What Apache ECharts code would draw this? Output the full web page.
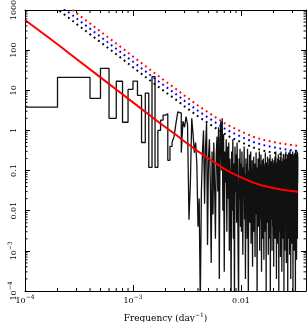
<!DOCTYPE html>
<html><head><meta charset="utf-8">
<script src="https://cdn.jsdelivr.net/npm/echarts@6/dist/echarts.min.js"></script>
<style>html,body{margin:0;padding:0;background:#fff}#c{width:307px;height:322px}</style>
</head><body><div id="c"></div>
<script>
// frequency spacing of the periodogram (day^-1)
const freqStep = 1e-4;
// periodogram power, one value per frequency k*freqStep (k = 1..336)
const power = [
3.8, 21, 21, 6.3, 35, 2.0, 16.8, 1.6, 10.5, 17,
7.5, 0.5, 8.5, 0.12, 22, 0.12, 1.0, 1.8, 2.4, 2.6,
0.18, 0.4, 0.5, 0.7, 1.5, 2.9, 2.7, 0.28, 1.7, 1.2,
2.2, 1.4, 0.006, 0.05, 2.0, 0.8, 0.28, 0.5, 0.15, 0.004,
0.02, 0.00005, 0.03, 0.3, 1.0, 0.015, 0.4, 1.5, 0.0014, 0.2,
0.6, 0.05, 0.0005, 0.3, 0.008, 0.5, 0.04, 0.002, 0.25, 0.7,
0.03, 1.2, 0.0002, 0.6, 1.7, 0.1, 2.0, 0.01, 0.8, 0.0003,
0.3, 0.05, 0.6, 0.003, 0.4, 0.02, 0.5, 0.001, 0.2, 0.05,
0.00005, 0.3, 0.01, 0.6, 0.002, 0.15, 0.00005, 0.4, 0.03, 0.25,
0.005, 0.5, 0.08, 0.001, 0.00005, 0.2, 0.02, 0.35, 0.004, 0.15,
0.003, 0.3, 0.02, 0.0008, 0.12, 0.05, 0.4, 0.006, 0.08, 0.0002,
0.2, 0.01, 0.15, 0.002, 0.35, 0.03, 0.00005, 0.1, 0.04, 0.25,
0.005, 0.06, 0.3, 0.0015, 0.12, 0.02, 0.18, 0.0004, 0.08, 0.01,
0.22, 0.003, 0.05, 0.15, 0.0007, 0.1, 0.03, 0.28, 0.008, 0.06,
0.00005, 0.12, 0.02, 0.2, 0.004, 0.09, 0.015, 0.3, 0.001, 0.05,
0.14, 0.006, 0.25, 0.03, 0.0003, 0.1, 0.04, 0.18, 0.002, 0.07,
0.2, 0.01, 0.0006, 0.12, 0.05, 0.15, 0.003, 0.28, 0.02, 0.08,
0.0001, 0.16, 0.03, 0.1, 0.005, 0.22, 0.012, 0.06, 0.0008, 0.14,
0.04, 0.2, 0.002, 0.09, 0.018, 0.25, 0.00005, 0.11, 0.03, 0.17,
0.006, 0.07, 0.13, 0.001, 0.2, 0.025, 0.09, 0.004, 0.15, 0.05,
0.0004, 0.18, 0.01, 0.12, 0.035, 0.22, 0.002, 0.08, 0.015, 0.3,
0.005, 0.1, 0.0002, 0.16, 0.04, 0.07, 0.0015, 0.2, 0.02, 0.12,
0.008, 0.25, 0.03, 0.00005, 0.14, 0.06, 0.18, 0.003, 0.1, 0.04,
0.22, 0.0007, 0.09, 0.02, 0.3, 0.006, 0.13, 0.05, 0.0003, 0.17,
0.03, 0.11, 0.002, 0.2, 0.012, 0.08, 0.26, 0.004, 0.15, 0.0001,
0.06, 0.19, 0.02, 0.1, 0.001, 0.24, 0.04, 0.13, 0.007, 0.3,
0.015, 0.09, 0.0005, 0.2, 0.05, 0.16, 0.003, 0.11, 0.03, 0.25,
0.00005, 0.14, 0.06, 0.21, 0.01, 0.08, 0.28, 0.002, 0.12, 0.04,
0.18, 0.0008, 0.1, 0.025, 0.32, 0.005, 0.15, 0.07, 0.0002, 0.22,
0.03, 0.12, 0.009, 0.26, 0.0015, 0.17, 0.05, 0.2, 0.004, 0.1,
0.3, 0.02, 0.0001, 0.14, 0.06, 0.24, 0.008, 0.11, 0.035, 0.19,
0.001, 0.27, 0.045, 0.13, 0.003, 0.22, 0.015, 0.09, 0.00005, 0.33,
0.04, 0.16, 0.007, 0.25, 0.02, 0.12, 0.0006, 0.2, 0.06, 0.3,
0.01, 0.15, 0.002, 0.28, 0.05, 0.22
];
// model curve and significance levels, sampled at modelFreq
const modelFreq  = [1e-4, 2e-4, 3e-4, 5e-4, 7e-4, 1e-3, 1.5e-3, 2e-3, 2.5e-3, 3e-3, 4e-3, 5e-3, 6e-3, 7e-3, 8e-3, 1e-2, 1.3e-2, 1.6e-2, 2e-2, 2.5e-2, 3.37e-2];
const modelPower = [563, 140, 60, 21, 10.5, 5.0, 2.15, 1.2, 0.78, 0.53, 0.30, 0.2, 0.145, 0.11, 0.09, 0.068, 0.05, 0.042, 0.037, 0.033, 0.0295];
const sigBlack   = [4222, 1050, 450, 158, 79, 37.5, 16.1, 9.0, 5.85, 3.98, 2.25, 1.5, 1.09, 0.83, 0.68, 0.51, 0.375, 0.315, 0.278, 0.248, 0.221];
const sigBlue    = [5799, 1442, 618, 216, 108, 51.5, 22.1, 12.4, 8.03, 5.46, 3.09, 2.06, 1.49, 1.13, 0.93, 0.70, 0.515, 0.433, 0.381, 0.340, 0.304];
const sigRed     = [7826, 1946, 834, 292, 146, 69.5, 29.9, 16.7, 10.8, 7.37, 4.17, 2.78, 2.02, 1.53, 1.25, 0.945, 0.695, 0.584, 0.514, 0.459, 0.410];
// tick labels
const xTickExp  = [-4, -3, -2];
const xTickText = ['10{sup|\u22124}', '10{sup|\u22123}', '0.01'];
const yTickExp  = [-4, -3, -2, -1, 0, 1, 2, 3];
const yTickText = ['10{sup|\u22124}', '10{sup|\u22123}', '0.01', '0.1', '1', '10', '100', '1000'];

const X_MIN = 1e-4, X_MAX = 0.04, Y_MIN = 1e-4, Y_MAX = 1000;
const FONT = 'DejaVu Serif';

const periodogram = power.map((p, i) => [(i + 1) * freqStep, p]);
periodogram.push([(power.length + 1) * freqStep, power[power.length - 1]]);
const zipF = arr => modelFreq.map((f, i) => [f, arr[i]]);

// minor tick values (2..9 x decade)
const xMinor = [], yMinor = [];
for (let e = -4; e <= -2; e++) for (let m = 2; m <= 9; m++) { const v = m * Math.pow(10, e); if (v < X_MAX) xMinor.push([v, 1]); }
for (let e = -4; e <= 2; e++) for (let m = 2; m <= 9; m++) yMinor.push([1e-3, m * Math.pow(10, e)]);

function makeFmt(exps, texts) {
  return function (v) {
    const l = Math.log10(v), e = Math.round(l);
    if (Math.abs(l - e) > 1e-6) return '';
    const i = exps.indexOf(e);
    return i < 0 ? '' : texts[i];
  };
}
const rich = {
  sup: { fontSize: 6, fontFamily: FONT, color: '#000', verticalAlign: 'top' }
};
const axisBase = {
  type: 'log', logBase: 10,
  axisLine: { show: true, onZero: false, lineStyle: { color: '#000', width: 1 } },
  splitLine: { show: false },
  minorTick: { show: false }
};

const chart = echarts.init(document.getElementById('c'), null, { renderer: 'canvas' });
chart.setOption({
  animation: false,
  backgroundColor: '#fff',
  grid: { left: 25, right: 1, top: 10, bottom: 31, containLabel: false, outerBoundsMode: 'none' },
  xAxis: [
    Object.assign({}, axisBase, {
      min: X_MIN, max: X_MAX, position: 'bottom',
      axisTick: { show: true, inside: true, length: 6, lineStyle: { color: '#000' } },
      axisLabel: { formatter: makeFmt(xTickExp, xTickText), fontFamily: FONT, fontSize: 8, color: '#000', margin: 3, lineHeight: 14, rich: rich, showMaxLabel: false },
      name: 'Frequency (day{sup|\u22121})', nameLocation: 'middle', nameGap: 17,
      nameTextStyle: { fontFamily: FONT, fontSize: 9, color: '#000', lineHeight: 12, rich: { sup: { fontSize: 6, fontFamily: FONT, color: '#000', verticalAlign: 'top' } } }
    }),
    Object.assign({}, axisBase, {
      min: X_MIN, max: X_MAX, position: 'top',
      axisTick: { show: true, inside: true, length: 6, lineStyle: { color: '#000' } },
      axisLabel: { show: false }
    })
  ],
  yAxis: [
    Object.assign({}, axisBase, {
      min: Y_MIN, max: Y_MAX, position: 'left',
      axisTick: { show: true, inside: true, length: 5, lineStyle: { color: '#000' } },
      axisLabel: { formatter: makeFmt(yTickExp, yTickText), rotate: 90, fontFamily: FONT, fontSize: 8, color: '#000', margin: 4, lineHeight: 14, rich: rich },
      name: 'Normalized Power', nameLocation: 'middle', nameGap: 17,
      nameTextStyle: { fontFamily: FONT, fontSize: 9, color: '#000' }
    }),
    Object.assign({}, axisBase, {
      min: Y_MIN, max: Y_MAX, position: 'right',
      axisTick: { show: true, inside: true, length: 5, lineStyle: { color: '#000' } },
      axisLabel: { show: false }
    })
  ],
  series: [
    {
      type: 'custom', xAxisIndex: 0, yAxisIndex: 0, data: xMinor, silent: true, z: 5,
      renderItem: function (params, api) {
        const v = api.value(0);
        const b = api.coord([v, Y_MIN]), t = api.coord([v, Y_MAX]);
        const st = { stroke: '#000', lineWidth: 1 };
        return { type: 'group', children: [
          { type: 'line', shape: { x1: b[0], y1: b[1], x2: b[0], y2: b[1] - 3 }, style: st },
          { type: 'line', shape: { x1: t[0], y1: t[1], x2: t[0], y2: t[1] + 3 }, style: st }
        ] };
      }
    },
    {
      type: 'custom', xAxisIndex: 0, yAxisIndex: 0, data: yMinor, silent: true, z: 5,
      renderItem: function (params, api) {
        const v = api.value(1);
        const l = api.coord([X_MIN, v]), r = api.coord([X_MAX, v]);
        const st = { stroke: '#000', lineWidth: 1 };
        return { type: 'group', children: [
          { type: 'line', shape: { x1: l[0], y1: l[1], x2: l[0] + 2.5, y2: l[1] }, style: st },
          { type: 'line', shape: { x1: r[0], y1: r[1], x2: r[0] - 2.5, y2: r[1] }, style: st }
        ] };
      }
    },
    {
      name: 'periodogram', type: 'line', step: 'end', data: periodogram,
      showSymbol: false, clip: true, lineStyle: { color: '#111', width: 1.3 }, z: 2
    },
    {
      name: 'sig1', type: 'line', data: zipF(sigBlack), showSymbol: false, clip: true,
      lineStyle: { color: '#000', width: 2, type: [1.8, 3.6] }, z: 3
    },
    {
      name: 'sig2', type: 'line', data: zipF(sigBlue), showSymbol: false, clip: true,
      lineStyle: { color: '#0000ff', width: 2, type: [1.8, 3.6] }, z: 3
    },
    {
      name: 'sig3', type: 'line', data: zipF(sigRed), showSymbol: false, clip: true,
      lineStyle: { color: '#ff0000', width: 2, type: [1.8, 3.6] }, z: 3
    },
    {
      name: 'model', type: 'line', data: zipF(modelPower), showSymbol: false, clip: true,
      lineStyle: { color: '#ff0000', width: 2 }, z: 4
    }
  ]
});
</script>
</body></html>
